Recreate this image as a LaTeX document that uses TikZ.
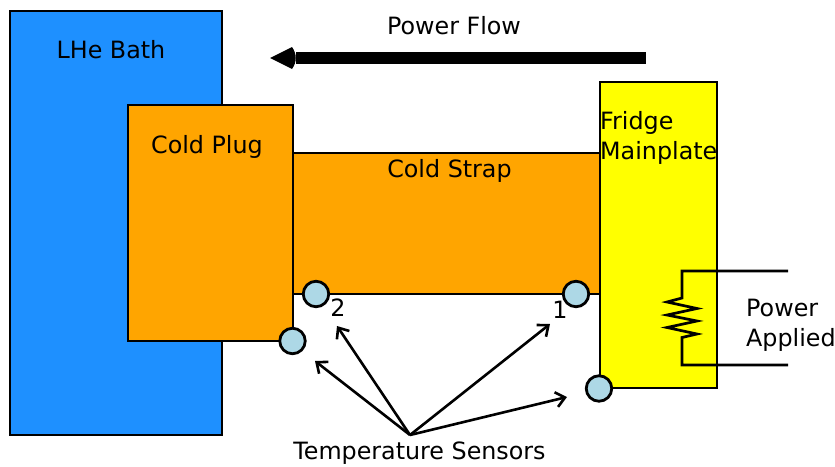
\documentclass[tikz,border=0pt]{standalone}
\usepackage{fontspec}
\setmainfont{DejaVu Sans}
\usetikzlibrary{arrows.meta}
\tikzset{
  x=1pt,y=-1pt,
  label/.style={font=\fontsize{23.8}{26}\selectfont,text=black,inner sep=0pt,anchor=base},
  llabel/.style={label,anchor=base west},
  blockline/.style={line width=2.7pt},
  sensor/.style={circle,draw=black,line width=2.8pt,fill=sensorblue,minimum size=25.5pt,inner sep=0pt},
  wire/.style={draw=black,line width=2.7pt},
  pointer/.style={draw=black,line width=2.6pt,-{Straight Barb[length=9pt,width=15pt,line width=2.6pt]}},
}
\definecolor{bathblue}{HTML}{1E90FF}
\definecolor{strapor}{HTML}{FFA500}
\definecolor{fridgey}{HTML}{FFFF00}
\definecolor{sensorblue}{HTML}{ADD8E6}
\begin{document}
\begin{tikzpicture}
\useasboundingbox (0,0) rectangle (835,466);
% blocks
\fill[bathblue] (10,11) rectangle (222,435);
\draw[blockline] (10,11) rectangle (222,435);
\fill[strapor] (293,153) rectangle (600,294);
\draw[blockline] (293,153) -- (600,153) (293,294) -- (600,294);
\fill[strapor] (128,105) rectangle (293,341);
\draw[blockline] (128,105) rectangle (293,341);
\fill[fridgey] (600,82) rectangle (717,388);
\draw[blockline] (600,82) rectangle (717,388);
% heater
\coordinate (wA) at (788,271);
\coordinate (wB) at (788,365);
\draw[wire,line join=miter] (wA) -- (682,271) -- (682,298) -- (667,302) -- (697,308.5) -- (667,315) -- (697,321) -- (667,327.5) -- (697,334) -- (682,337.5) -- (682,365) -- (wB);
% power flow arrow
\fill[black] (646,52) rectangle (296,64);
\fill[black] (270,58) -- (292,47) .. controls (297,54) and (297,62) .. (292,69) -- cycle;
% sensors
\node[sensor] (s2) at (316,294) {};
\node[sensor] (s1) at (576,294) {};
\node[sensor] (s3) at (292.5,341) {};
\node[sensor] (s4) at (599,388.5) {};
% labels
\node[label] (lhe) at (111,58.5) {LHe Bath};
\node[label] (plug) at (207,153) {Cold Plug};
\node[label] (strap) at (449.5,177) {Cold Strap};
\node[llabel] (fr1) at (600,129.5) {Fridge};
\node[llabel] (fr2) at (600,159) {Mainplate};
\node[label] (flow) at (454,34.5) {Power Flow};
\node[llabel] (pw1) at (746,316) {Power};
\node[llabel] (pw2) at (746,346) {Applied};
\node[label] (n2) at (338,316.5) {2};
\node[label] (n1) at (560,318.5) {1};
\node[label] (ts) at (419.5,459.5) {Temperature Sensors};
% pointers
\coordinate (o) at (410,435);
\coordinate (p1) at (315,361);
\coordinate (p2) at (337,326);
\coordinate (p3) at (550,324);
\coordinate (p4) at (567,397);
\draw[pointer] (o) -- (p1);
\draw[pointer] (o) -- (p2);
\draw[pointer] (o) -- (p3);
\draw[pointer] (o) -- (p4);
\end{tikzpicture}
\end{document}
